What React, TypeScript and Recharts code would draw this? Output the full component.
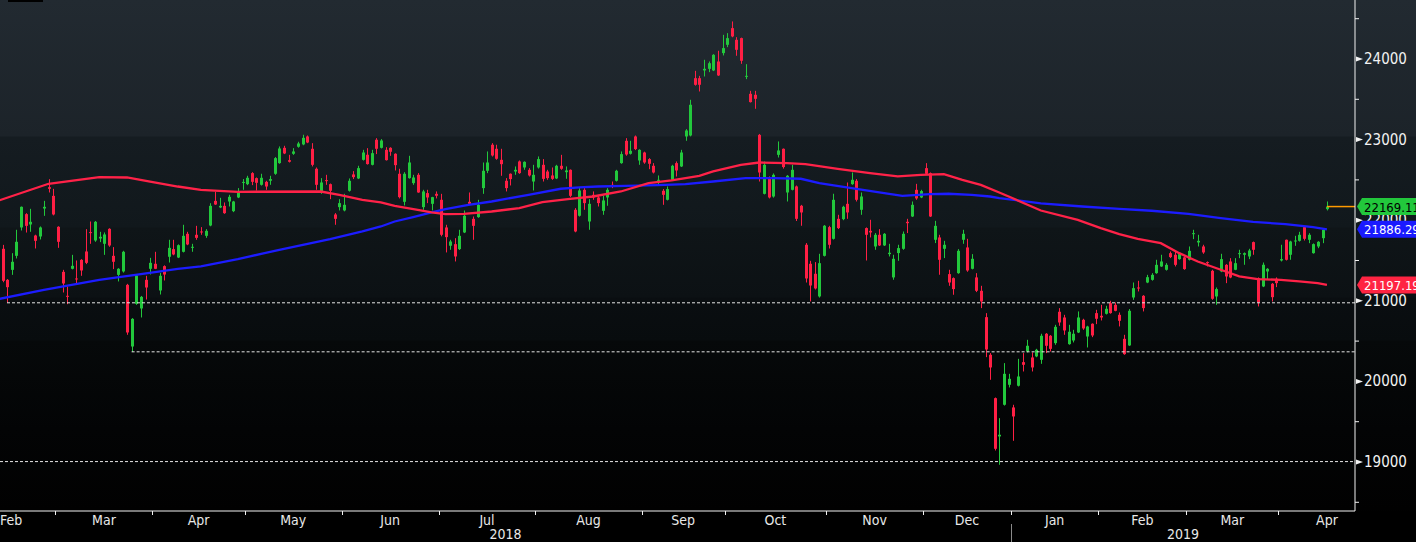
import React from "react";
import { Bar, ComposedChart, Line, ReferenceLine, XAxis, YAxis } from "recharts";

const W = 1416;
const H = 542;

const MONTH_LABELS = ["Feb", "Mar", "Apr", "May", "Jun", "Jul", "Aug", "Sep", "Oct", "Nov", "Dec", "Jan", "Feb", "Mar", "Apr"];
const YEAR_LABELS = ["2018", "2019"];
const YEAR_FIRST_MONTH = [0, 11];

// daily candles, one array per month: [open, high, low, close]
const FEB18 = [
  [21530, 21560, 21110, 21145], [21645, 21694, 21230, 21248], [21260, 21270, 20975, 21169],
  [21384, 21591, 21322, 21484], [21558, 21881, 21525, 21732], [21910, 22170, 21872, 22166],
  [22075, 22087, 21847, 21930], [21947, 22141, 21856, 21980], [21810, 21820, 21649, 21744],
  [21798, 21922, 21761, 21910], [22145, 22240, 22054, 22166], [22410, 22509, 22344, 22389],
  [22302, 22389, 22060, 22071],
];
const MAR18 = [
  [21918, 21925, 21657, 21732], [21359, 21384, 21103, 21215], [21062, 21177, 20958, 21053],
  [21397, 21570, 21390, 21434], [21277, 21500, 21219, 21268], [21508, 21517, 21310, 21376],
  [21612, 21889, 21455, 21471], [21852, 21984, 21707, 21845], [21748, 21990, 21732, 21980],
  [21773, 21856, 21728, 21794], [21707, 21848, 21570, 21823], [21893, 21900, 21670, 21686],
  [21558, 21666, 21393, 21484], [21322, 21405, 21240, 21397], [21364, 21620, 21350, 21608],
  [21198, 21210, 20578, 20607], [20433, 20785, 20367, 20776], [20962, 21330, 20950, 21314],
  [20905, 21060, 20793, 21049], [21260, 21310, 21016, 21165], [21397, 21533, 21326, 21471],
];
const APR18 = [
  [21459, 21608, 21393, 21397], [21128, 21347, 21078, 21310], [21430, 21440, 21252, 21326],
  [21546, 21757, 21475, 21657], [21641, 21757, 21565, 21575], [21537, 21700, 21530, 21690],
  [21608, 21943, 21600, 21806], [21831, 21856, 21690, 21699], [21665, 21707, 21608, 21670],
  [21819, 21930, 21757, 21781], [21860, 21914, 21819, 21852], [21806, 21889, 21781, 21868],
  [21934, 22211, 21925, 22178], [22240, 22352, 22190, 22195], [22158, 22278, 22150, 22178],
  [22178, 22220, 22079, 22087], [22232, 22315, 22170, 22290], [22112, 22240, 22100, 22232],
  [22282, 22398, 22274, 22357], [22470, 22510, 22377, 22475],
];
const MAY18 = [
  [22447, 22551, 22435, 22526], [22584, 22596, 22435, 22476], [22522, 22530, 22369, 22464],
  [22439, 22576, 22430, 22526], [22476, 22489, 22377, 22418], [22489, 22551, 22439, 22510],
  [22576, 22783, 22563, 22770], [22708, 22915, 22700, 22890], [22898, 22923, 22820, 22828],
  [22745, 22811, 22716, 22725], [22824, 22894, 22811, 22853], [22911, 22973, 22900, 22952],
  [22940, 23060, 22930, 23022], [23039, 23051, 22956, 22964], [22886, 22956, 22667, 22687],
  [22638, 22654, 22377, 22439], [22357, 22522, 22327, 22468], [22497, 22563, 22439, 22489],
  [22447, 22455, 22261, 22365], [22071, 22088, 21943, 22017], [22162, 22261, 22121, 22212],
];
const JUN18 = [
  [22121, 22327, 22110, 22191], [22365, 22518, 22355, 22489], [22568, 22609, 22510, 22534],
  [22518, 22675, 22510, 22646], [22749, 22873, 22740, 22840], [22812, 22894, 22690, 22696],
  [22687, 22873, 22680, 22832], [22998, 23018, 22820, 22886], [22898, 23006, 22890, 22989],
  [22873, 22906, 22740, 22745], [22898, 22905, 22799, 22849], [22824, 22830, 22617, 22683],
  [22576, 22638, 22270, 22286], [22228, 22596, 22183, 22576], [22522, 22799, 22515, 22716],
  [22460, 22563, 22439, 22530], [22563, 22584, 22340, 22344], [22162, 22377, 22129, 22357],
  [22336, 22377, 22212, 22282], [22203, 22290, 22121, 22286], [22327, 22357, 22270, 22303],
];
const JUL18 = [
  [22253, 22327, 21800, 21819], [21910, 21943, 21600, 21790], [21683, 21757, 21633, 21736],
  [21703, 21777, 21488, 21550], [21641, 21881, 21630, 21806], [21848, 22120, 21840, 22055],
  [22228, 22344, 22191, 22203], [22017, 22046, 21757, 21930], [22038, 22253, 22030, 22191],
  [22398, 22716, 22327, 22613], [22613, 22853, 22584, 22716], [22936, 22956, 22790, 22803],
  [22886, 22936, 22750, 22762], [22749, 22886, 22551, 22695], [22489, 22522, 22357, 22398],
  [22576, 22580, 22431, 22510], [22604, 22667, 22563, 22625], [22729, 22741, 22575, 22584],
  [22654, 22730, 22625, 22724], [22625, 22646, 22542, 22555], [22480, 22687, 22369, 22563],
];
const AUG18 = [
  [22654, 22791, 22640, 22758], [22687, 22758, 22480, 22513], [22604, 22625, 22501, 22522],
  [22555, 22654, 22500, 22513], [22518, 22687, 22510, 22675], [22675, 22811, 22625, 22638],
  [22596, 22667, 22514, 22617], [22625, 22630, 22286, 22303], [22129, 22150, 21850, 21860],
  [22055, 22398, 22045, 22369], [22377, 22398, 22129, 22212], [21984, 22261, 21881, 22203],
  [22315, 22357, 22253, 22282], [22282, 22315, 22170, 22212], [22116, 22303, 22067, 22245],
  [22282, 22398, 22179, 22377], [22439, 22480, 22398, 22431], [22489, 22625, 22480, 22613],
  [22708, 22853, 22700, 22820], [22985, 23018, 22800, 22815], [22824, 22985, 22815, 22861],
  [23039, 23051, 22870, 22882], [22741, 22880, 22687, 22873],
];
const SEP18 = [
  [22840, 22850, 22700, 22716], [22758, 22770, 22633, 22700], [22675, 22708, 22580, 22592],
  [22489, 22555, 22447, 22501], [22365, 22386, 22191, 22315], [22253, 22419, 22245, 22386],
  [22501, 22687, 22495, 22675], [22708, 22729, 22542, 22617], [22667, 22873, 22660, 22840],
  [23039, 23130, 22985, 23113], [23051, 23494, 23040, 23432], [23762, 23853, 23670, 23680],
  [23762, 23791, 23597, 23680], [23858, 23990, 23783, 23878], [23878, 23969, 23837, 23948],
  [23858, 24060, 23850, 24052], [23969, 24102, 23790, 23796], [24073, 24300, 24044, 24135],
];
const OCT18 = [
  [24176, 24321, 24147, 24259], [24383, 24466, 24270, 24280], [24238, 24271, 24040, 24114],
  [24259, 24265, 23940, 23978], [23779, 23936, 23750, 23791], [23568, 23605, 23460, 23465],
  [23556, 23605, 23382, 23506], [23059, 23070, 22480, 22592], [22327, 22728, 22320, 22687],
  [22530, 22543, 22270, 22282], [22294, 22580, 22280, 22563], [22811, 22977, 22778, 22865],
  [22886, 22890, 22640, 22659], [22344, 22560, 22232, 22551], [22377, 22687, 22370, 22625],
  [22419, 22430, 21990, 22017], [22179, 22190, 21931, 22096], [21695, 21716, 21227, 21277],
  [21459, 21496, 20992, 21190], [21335, 21480, 21140, 21153], [21054, 21583, 21040, 21467],
  [21558, 21940, 21550, 21931],
];
const NOV18 = [
  [21914, 21930, 21649, 21695], [21769, 22328, 21760, 22253], [22017, 22067, 21890, 21902],
  [22013, 22179, 22000, 22166], [22203, 22468, 22017, 22096], [22447, 22592, 22439, 22501],
  [22489, 22510, 22232, 22253], [22129, 22344, 22067, 22294], [21902, 21910, 21500, 21819],
  [21868, 22005, 21786, 21848], [21674, 21840, 21633, 21819], [21819, 21889, 21680, 21687],
  [21687, 21840, 21680, 21831], [21579, 21707, 21550, 21596], [21290, 21571, 21261, 21521],
  [21592, 21695, 21496, 21654], [21645, 21860, 21633, 21831], [21980, 22017, 21840, 21963],
  [22046, 22232, 22040, 22191], [22377, 22451, 22253, 22270], [22282, 22377, 22274, 22361],
];
const DEC18 = [
  [22646, 22708, 22570, 22576], [22584, 22592, 22040, 22046], [21757, 21992, 21716, 21930],
  [21786, 21819, 21323, 21509], [21645, 21744, 21530, 21695], [21331, 21385, 21186, 21227],
  [21281, 21290, 21075, 21145], [21343, 21641, 21335, 21620], [21757, 21881, 21707, 21831],
  [21662, 21769, 21360, 21376], [21397, 21579, 21390, 21521], [21290, 21343, 21108, 21124],
  [21124, 21186, 20909, 20992], [20797, 20847, 20301, 20396], [20330, 20351, 20020, 20173],
  [19792, 19800, 19143, 19164], [19317, 19544, 18965, 19338], [19710, 20227, 19700, 20094],
  [19958, 20094, 19925, 20032],
];
const JAN19 = [
  [19677, 19710, 19263, 19565], [19946, 20280, 19937, 20061], [20239, 20351, 20123, 20206],
  [20372, 20516, 20359, 20442], [20297, 20359, 20123, 20173], [20310, 20404, 20300, 20392],
  [20268, 20591, 20218, 20566], [20591, 20600, 20351, 20442], [20566, 20575, 20371, 20404],
  [20475, 20702, 20454, 20677], [20864, 20909, 20690, 20731], [20793, 20826, 20578, 20632],
  [20462, 20702, 20455, 20616], [20508, 20640, 20483, 20591], [20607, 20868, 20600, 20793],
  [20764, 20777, 20640, 20657], [20557, 20690, 20421, 20681], [20715, 20720, 20549, 20570],
  [20847, 20888, 20710, 20777],
];
const FEB19 = [
  [20814, 20950, 20756, 20793], [20839, 20938, 20830, 20901], [20971, 21000, 20840, 20847],
  [20950, 20979, 20870, 20876], [20826, 20855, 20682, 20752], [20528, 20578, 20330, 20338],
  [20446, 20897, 20440, 20876], [21041, 21227, 21012, 21157], [21165, 21248, 21116, 21153],
  [21062, 21070, 20868, 20909], [21227, 21322, 21219, 21293], [21260, 21343, 21250, 21322],
  [21343, 21509, 21335, 21446], [21426, 21571, 21420, 21488], [21385, 21467, 21375, 21446],
  [21591, 21612, 21530, 21542], [21571, 21620, 21426, 21446], [21517, 21591, 21510, 21579],
  [21538, 21550, 21385, 21393],
];
const MAR19 = [
  [21509, 21674, 21500, 21620], [21827, 21881, 21765, 21839], [21724, 21819, 21674, 21744],
  [21674, 21695, 21583, 21600], [21480, 21488, 21426, 21475], [21372, 21385, 21012, 21025],
  [21054, 21165, 20950, 21145], [21364, 21583, 21355, 21517], [21446, 21455, 21219, 21302],
  [21488, 21529, 21280, 21289], [21385, 21529, 21380, 21467], [21579, 21633, 21529, 21591],
  [21571, 21600, 21447, 21591], [21550, 21645, 21517, 21624], [21728, 21735, 21571, 21633],
  [21281, 21290, 20930, 20979], [21178, 21475, 21170, 21447], [21364, 21405, 21260, 21397],
  [21211, 21220, 20992, 21045], [21273, 21290, 21170, 21219],
];
const APR19 = [
  [21500, 21695, 21488, 21517], [21757, 21760, 21500, 21509], [21571, 21745, 21509, 21736],
  [21736, 21806, 21682, 21748], [21744, 21856, 21735, 21819], [21914, 21922, 21748, 21769],
  [21757, 21839, 21715, 21819], [21591, 21712, 21585, 21703], [21674, 21740, 21653, 21732],
  [21777, 21893, 21715, 21881], [22137, 22232, 22121, 22169.11],
];

const CANDLES_BY_MONTH = [
  FEB18, MAR18, APR18, MAY18, JUN18, JUL18, AUG18, SEP18, OCT18, NOV18, DEC18, JAN19, FEB19, MAR19, APR19,
];

// moving averages, [candle number, value]
const MA100 = [
  [1, 22240], [12, 22452], [23, 22535], [29, 22530], [34, 22480], [40, 22418], [45, 22377],
  [53, 22352], [71, 22356], [75, 22315], [80, 22253], [84, 22220], [87, 22179], [92, 22129],
  [95, 22096], [98, 22075], [102, 22079], [108, 22108], [114, 22150], [119, 22224], [125, 22265],
  [130, 22294], [136, 22356], [142, 22460], [147, 22493], [153, 22551], [156, 22605], [162, 22687],
  [166, 22716], [172, 22708], [176, 22696], [183, 22638], [190, 22584], [196, 22543], [201, 22563],
  [206, 22572], [210, 22501], [214, 22439], [218, 22344], [227, 22120], [235, 22005], [240, 21902],
  [244, 21827], [248, 21769], [253, 21715], [257, 21591], [261, 21488], [266, 21385], [270, 21302],
  [274, 21269], [279, 21260], [283, 21240], [287, 21219], [289, 21197.19],
];
const MA200 = [
  [1, 21020], [11, 21136], [23, 21260], [32, 21330], [40, 21397], [45, 21426], [53, 21517],
  [62, 21633], [73, 21765], [80, 21860], [84, 21922], [87, 21984], [91, 22038], [95, 22096],
  [98, 22137], [103, 22191], [108, 22232], [116, 22315], [123, 22390], [127, 22406], [131, 22418],
  [137, 22427], [144, 22435], [150, 22447], [156, 22480], [163, 22522], [169, 22522], [175, 22514],
  [179, 22460], [186, 22398], [192, 22344], [197, 22303], [203, 22324], [207, 22328], [212, 22315],
  [216, 22294], [218, 22274], [227, 22210], [236, 22170], [244, 22141], [251, 22117], [259, 22079],
  [266, 22026], [273, 21980], [280, 21951], [286, 21914], [289, 21886.29],
];

// dotted support levels: [from candle, level]
const SUPPORT = [
  [3, 20975],
  [30, 20367],
  [1.48, 19005],
];

const Y_MAJOR = [19000, 20000, 21000, 22000, 23000, 24000];
const Y_MINOR = [18500, 19500, 20500, 21500, 22500, 23500, 24500];

const X_MIN = 1.48;
const X_MAX = 295.08;
const Y_MIN = 18392;
const Y_MAX = 24732;

const GREEN = "#22c83c";
const RED = "#ff1f44";
const BLUE_LINE = "#1c1cff";
const RED_LINE = "#ff2248";
const ORANGE = "#ff9a00";
const AXIS = "#f2f2f2";
const FONT = "'Liberation Sans Narrow', 'Arial Narrow', 'DejaVu Sans Condensed', sans-serif";

type Row = { i: number; o: number; h: number; l: number; c: number; ma100?: number; ma200?: number };

const rows: Row[] = [];
const firstOfMonth: number[] = [];
CANDLES_BY_MONTH.forEach((month) => {
  firstOfMonth.push(rows.length + 1);
  month.forEach(([o, h, l, c]) => rows.push({ i: rows.length + 1, o, h, l, c }));
});
MA100.forEach(([i, v]) => (rows[i - 1].ma100 = v));
MA200.forEach(([i, v]) => (rows[i - 1].ma200 = v));

const last = rows[rows.length - 1];
const TAGS = [
  { value: last.c, bg: GREEN, fg: "#000000" },
  { value: MA200[MA200.length - 1][1], bg: "#1a1aff", fg: "#ffffff" },
  { value: MA100[MA100.length - 1][1], bg: "#ff2442", fg: "#ffffff" },
];

// x axis: month boundaries get a tick mark, labels sit mid-month, years on a second row
type XInfo = { kind: "tick" | "month" | "year"; label?: string; first?: boolean; yearBreak?: boolean };
const xInfo = new Map<number, XInfo>();
firstOfMonth.forEach((f, k) => {
  if (k > 0) xInfo.set(f - 0.5, { kind: "tick", yearBreak: YEAR_FIRST_MONTH.includes(k) });
  let pos: number;
  if (k === 0) pos = X_MIN;
  else if (k < firstOfMonth.length - 1) pos = (f + firstOfMonth[k + 1] - 1) / 2;
  else pos = f + 10;
  xInfo.set(pos, { kind: "month", label: MONTH_LABELS[k], first: k === 0 });
});
YEAR_LABELS.forEach((label, k) => {
  const from = k === 0 ? X_MIN : firstOfMonth[YEAR_FIRST_MONTH[k]] - 0.5;
  const to = k < YEAR_LABELS.length - 1 ? firstOfMonth[YEAR_FIRST_MONTH[k + 1]] - 0.5 : X_MAX;
  xInfo.set((from + to) / 2, { kind: "year", label });
});
const X_TICKS = Array.from(xInfo.keys()).sort((a, b) => a - b);
const Y_TICKS = [...Y_MINOR, ...Y_MAJOR, ...TAGS.map((t) => t.value)];

function Candle(props: any) {
  const { x, y, width, height, payload } = props;
  if (x == null || !payload) return null;
  const { o, h, l, c } = payload as Row;
  const top = Math.min(y, y + height);
  const span = Math.abs(height);
  const px = (v: number) => (h === l ? top : top + ((h - v) / (h - l)) * span);
  const color = c >= o ? GREEN : RED;
  const cx = Math.round(x + width / 2) + 0.5;
  const bTop = px(Math.max(o, c));
  const bBot = px(Math.min(o, c));
  return (
    <g>
      <line x1={cx} x2={cx} y1={top} y2={top + span} stroke={color} strokeWidth={1} />
      <rect x={cx - 1.5} y={bTop} width={3} height={Math.max(1, bBot - bTop)} fill={color} />
    </g>
  );
}

function XTick({ x, y, payload }: any) {
  const info = xInfo.get(payload.value);
  if (!info) return null;
  if (info.kind === "tick") {
    const lx = Math.round(x) + 0.5;
    return (
      <g>
        <line x1={lx} x2={lx} y1={y} y2={y + 4} stroke={AXIS} />
        {info.yearBreak && <line x1={lx} x2={lx} y1={y + 13} y2={y + 31} stroke="#8a8a8a" />}
      </g>
    );
  }
  return (
    <text
      x={info.first ? 0 : x}
      y={info.kind === "month" ? y + 9 : y + 22.5}
      textAnchor={info.first ? "start" : "middle"}
      dominantBaseline="central"
      fill="#e8e8e8"
      fontSize={14}
      fontFamily={FONT}
    >
      {info.label}
    </text>
  );
}

function YTick({ x, y, payload }: any) {
  const v = payload.value as number;
  const tag = TAGS.find((t) => t.value === v);
  if (tag) {
    return (
      <g>
        <polygon
          points={`${x + 2},${y} ${x + 7},${y - 8.5} ${W},${y - 8.5} ${W},${y + 8.5} ${x + 7},${y + 8.5}`}
          fill={tag.bg}
        />
        <text x={x + 9} y={y + 0.5} dominantBaseline="central" fill={tag.fg} fontSize={13} fontFamily={FONT}>
          {v.toFixed(2)}
        </text>
      </g>
    );
  }
  if (v % 1000 === 0) {
    return (
      <g>
        <polygon points={`${x + 1},${y - 2.5} ${x + 8},${y} ${x + 1},${y + 2.5}`} fill={AXIS} />
        <text x={x + 9} y={y} dominantBaseline="central" fill={AXIS} fontSize={15} fontFamily={FONT}>
          {v}
        </text>
      </g>
    );
  }
  return <line x1={x} x2={x + 4} y1={y} y2={y} stroke={AXIS} />;
}

const BACKGROUND =
  "linear-gradient(to bottom, #222a31 0px, #1c2329 136px, #151c21 137px, #11181c 227px, #0f1518 228px, " +
  "#0c1114 297px, #0a0e11 298px, #080c0e 340px, #06090a 341px, #030405 430px, #010101 510px, #000 511px, #000 542px)";

export default function App() {
  return (
    <div style={{ position: "absolute", left: 0, top: 0, width: W, height: H, background: BACKGROUND }}>
      <div style={{ position: "absolute", left: 8, top: 0, width: 35, height: 2, background: "#000" }} />
      <ComposedChart width={W} height={H} data={rows} margin={{ top: 0, right: 0, bottom: 0, left: 0 }}>
        <XAxis
          dataKey="i"
          type="number"
          domain={[X_MIN, X_MAX]}
          allowDataOverflow
          ticks={X_TICKS}
          interval={0}
          height={31}
          tickSize={0}
          tickMargin={0}
          tickLine={false}
          axisLine={{ stroke: AXIS }}
          tick={<XTick />}
        />
        <YAxis
          orientation="right"
          type="number"
          domain={[Y_MIN, Y_MAX]}
          allowDataOverflow
          ticks={Y_TICKS}
          interval={0}
          width={61}
          tickSize={0}
          tickMargin={0}
          tickLine={false}
          axisLine={{ stroke: AXIS }}
          tick={<YTick />}
        />
        {SUPPORT.map(([from, level]) => (
          <ReferenceLine
            key={level}
            segment={[{ x: from, y: level }, { x: X_MAX, y: level }]}
            stroke="#e6e6e6"
            strokeDasharray="3 2"
            strokeWidth={1}
          />
        ))}
        <Line dataKey="ma200" stroke={BLUE_LINE} strokeWidth={2.3} dot={false} connectNulls isAnimationActive={false} />
        <Line dataKey="ma100" stroke={RED_LINE} strokeWidth={2.3} dot={false} connectNulls isAnimationActive={false} />
        <Bar dataKey={(d: Row) => [d.l, d.h]} barSize={3} shape={<Candle />} isAnimationActive={false} />
        <ReferenceLine
          segment={[{ x: last.i, y: last.c }, { x: X_MAX, y: last.c }]}
          stroke={ORANGE}
          strokeWidth={1.5}
        />
      </ComposedChart>
    </div>
  );
}
